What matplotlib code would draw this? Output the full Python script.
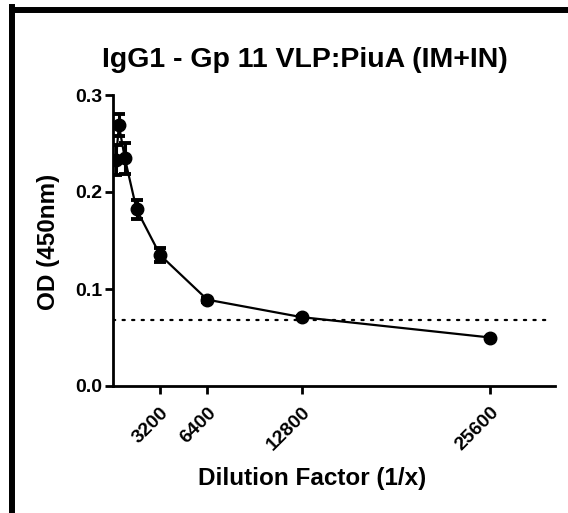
import matplotlib
matplotlib.use("Agg")
import matplotlib.pyplot as plt
from matplotlib.lines import Line2D

plt.rcParams['font.family'] = ['Liberation Sans', 'DejaVu Sans']

dilution = [200, 400, 800, 1600, 3200, 6400, 12800, 25600]
od_mean = [0.233, 0.269, 0.235, 0.182, 0.135, 0.089, 0.071, 0.050]
od_err = [0.015, 0.011, 0.016, 0.010, 0.007, 0.002, 0.001, 0.001]
cutoff = 0.068
xticks = [3200, 6400, 12800, 25600]
yticks = [0.0, 0.1, 0.2, 0.3]
title = "IgG1 - Gp 11 VLP:PiuA (IM+IN)"
xlabel = "Dilution Factor (1/x)"
ylabel = "OD (450nm)"

fig = plt.figure(figsize=(5.68, 5.13), dpi=100)
ax = fig.add_axes([113/568, 1-386/513, (555-113)/568, (386-95)/513])

ax.errorbar(dilution, od_mean, yerr=od_err, fmt='o-', color='black',
            markersize=9, linewidth=1.6, elinewidth=2.2, capsize=4.5, capthick=2.8)
ax.axhline(cutoff, color='black', linestyle=(0, (1, 3.3)), linewidth=1.6, xmax=0.99,
           dash_capstyle='round')

ax.set_xlim(0, 30000)
ax.set_ylim(0, 0.3)
ax.set_xticks(xticks)
ax.set_xticklabels([str(v) for v in xticks], rotation=45, ha='right', va='top',
                   rotation_mode='anchor', fontsize=14, fontweight='bold')
ax.set_yticks(yticks)
ax.set_yticklabels([f"{v:.1f}" for v in yticks], fontsize=14, fontweight='bold')
for s in ['top', 'right']:
    ax.spines[s].set_visible(False)
for s in ['left', 'bottom']:
    ax.spines[s].set_linewidth(2)
ax.tick_params(axis='both', width=2, length=6, direction='out', pad=2)
ax.tick_params(axis='x', pad=7)

fig.text(312/568, 1-478/513, xlabel, ha='center', va='center', fontsize=17.5, fontweight='bold')
fig.text(49/568, 1-242/513, ylabel, ha='center', va='center', rotation=90, fontsize=17.5, fontweight='bold')
fig.text(305/568, 1-60/513, title, ha='center', va='center', fontsize=20.5, fontweight='bold')

# frame border (left and top)
fig.add_artist(Line2D([12/568, 12/568], [0, 1-7/513], transform=fig.transFigure,
                      color='black', linewidth=4.3, solid_capstyle='projecting'))
fig.add_artist(Line2D([12/568, 1], [1-10/513, 1-10/513], transform=fig.transFigure,
                      color='black', linewidth=4.3, solid_capstyle='projecting'))

fig.savefig('out.png', dpi=100)
